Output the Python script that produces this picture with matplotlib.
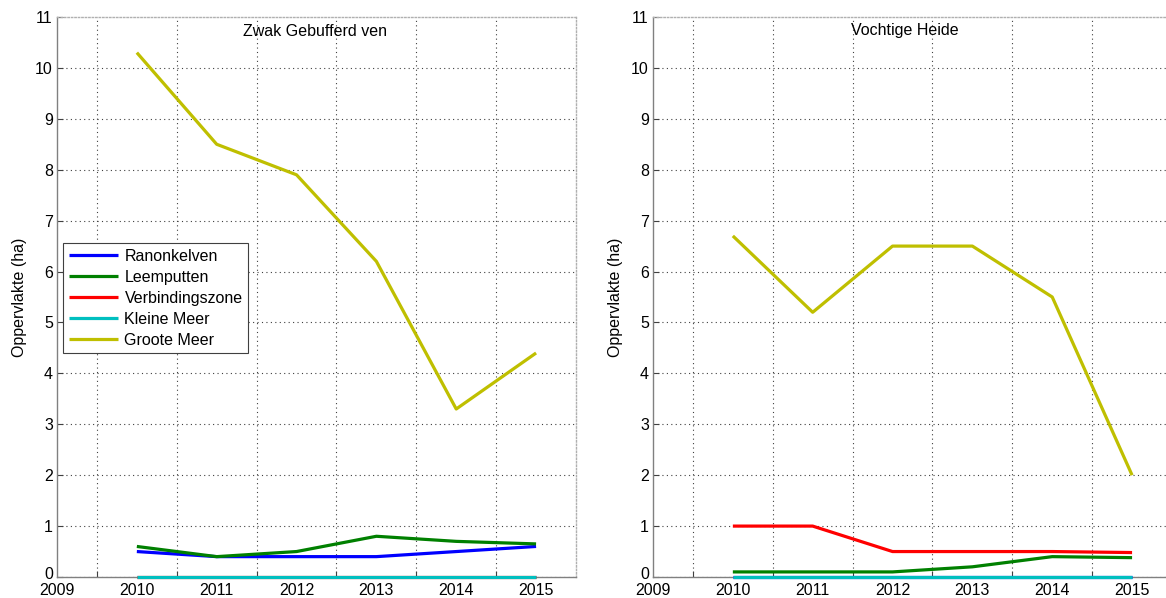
import matplotlib
matplotlib.use("Agg")
import matplotlib.pyplot as plt
from matplotlib.transforms import ScaledTranslation

plt.rcParams["font.family"] = ["Liberation Sans", "DejaVu Sans"]

# ---------- data ----------
years = [2010, 2011, 2012, 2013, 2014, 2015]
series_names = ["Ranonkelven", "Leemputten", "Verbindingszone", "Kleine Meer", "Groote Meer"]
series_colors = ["#0000ff", "#008000", "#ff0000", "#00bfbf", "#bfbf00"]

# Zwak Gebufferd ven
zgv_ranonkelven = [0.5, 0.4, 0.4, 0.4, 0.5, 0.6]
zgv_leemputten = [0.6, 0.4, 0.5, 0.8, 0.7, 0.65]
zgv_verbinding = [0.0, 0.0, 0.0, 0.0, 0.0, 0.0]
zgv_kleine = [0.0, 0.0, 0.0, 0.0, 0.0, 0.0]
zgv_groote = [10.3, 8.5, 7.9, 6.2, 3.3, 4.4]

# Vochtige Heide
vh_ranonkelven = [0.0, 0.0, 0.0, 0.0, 0.0, 0.0]
vh_leemputten = [0.1, 0.1, 0.1, 0.2, 0.4, 0.38]
vh_verbinding = [1.0, 1.0, 0.5, 0.5, 0.5, 0.48]
vh_kleine = [0.0, 0.0, 0.0, 0.0, 0.0, 0.0]
vh_groote = [6.7, 5.2, 6.5, 6.5, 5.5, 2.0]

panels = [
    ("Zwak Gebufferd ven",
     [zgv_ranonkelven, zgv_leemputten, zgv_verbinding, zgv_kleine, zgv_groote]),
    ("Vochtige Heide",
     [vh_ranonkelven, vh_leemputten, vh_verbinding, vh_kleine, vh_groote]),
]

year_labels = [2009, 2010, 2011, 2012, 2013, 2014, 2015]
grid_x = [2009.5, 2010.5, 2011.5, 2012.5, 2013.5, 2014.5]

# ---------- figure ----------
W, H = 1166, 598
fig = plt.figure(figsize=(W / 100, H / 100), dpi=100)

ax_w = 519 / W
ax_h = 560 / H
ax_b = 1 - 577 / H
lefts = [57 / W, 653 / W]
title_x = [0.497, 0.486]

for (title, values), left, tx in zip(panels, lefts, title_x):
    ax = fig.add_axes([left, ax_b, ax_w, ax_h])
    for name, col, vals in zip(series_names, series_colors, values):
        ax.plot(years, vals, color=col, lw=2.3, label=name, solid_capstyle="butt",
                clip_on=False, zorder=3)

    ax.set_xlim(2009, 2015.5)
    ax.set_ylim(0, 11)
    ax.set_xticks(grid_x)
    ax.set_xticklabels([])
    ax.set_xticks(year_labels, minor=True)
    ax.set_xticklabels([str(y) for y in year_labels], minor=True)
    ax.set_yticks(range(0, 12))

    ax.tick_params(axis="x", which="major", direction="in", length=4, color="#404040")
    ax.tick_params(axis="x", which="minor", length=0, pad=4, labelsize=11.5)
    ax.tick_params(axis="y", direction="in", length=4, pad=3, labelsize=11.5, color="#404040")

    # lift the "0" label a little so it clears the first year label
    lbl0 = ax.get_yticklabels()[0]
    lbl0.set_transform(lbl0.get_transform() + ScaledTranslation(0, 4 / 100, fig.dpi_scale_trans))

    ax.grid(True, which="major", linestyle=(0, (1, 3)), color="#404040", lw=0.8)
    ax.get_ygridlines()[-1].set_visible(False)

    for s in ("left", "bottom"):
        ax.spines[s].set_color("#808080")
        ax.spines[s].set_linewidth(1.0)
    for s in ("top", "right"):
        ax.spines[s].set_color("#b0b0b0")
        ax.spines[s].set_linestyle((0, (1, 1.5)))
        ax.spines[s].set_linewidth(1.0)

    ax.set_ylabel("Oppervlakte (ha)", fontsize=11.5, labelpad=6)
    ax.text(tx, 0.975, title, transform=ax.transAxes, ha="center", va="center",
            fontsize=11.5)

    if title == "Zwak Gebufferd ven":
        leg = ax.legend(loc="upper left", bbox_to_anchor=(6 / 519, 1 - (243 - 17) / 560),
                        fontsize=11.5, frameon=True, fancybox=False, borderpad=0.35,
                        labelspacing=0.38, handlelength=3.1, handletextpad=0.4,
                        borderaxespad=0)
        leg.get_frame().set_edgecolor("#404040")
        leg.get_frame().set_linewidth(0.8)
        leg.get_frame().set_alpha(1)
        leg.set_zorder(5)

fig.savefig("out.png", dpi=100)
